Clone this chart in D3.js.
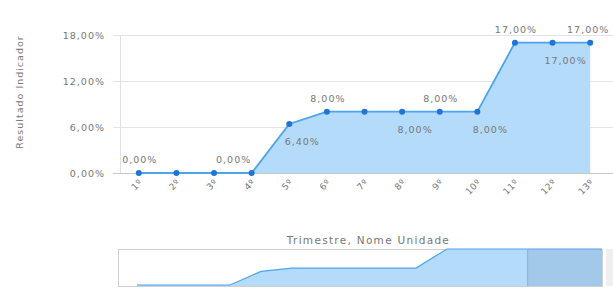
<!DOCTYPE html>
<html>
<head>
<meta charset="utf-8">
<script src="https://cdn.jsdelivr.net/npm/d3@7"></script>
<style>
  body { margin: 0; background: #fff; }
  text { font-family: "DejaVu Sans", Verdana, sans-serif; fill: #777; }
</style>
</head>
<body>
<div id="chart-area"></div>
<script>
// trimestres
const categories = ["1º", "2º", "3º", "4º", "5º", "6º", "7º", "8º", "9º", "10º", "11º", "12º", "13º"]
const values = [0, 0, 0, 0, 6.4, 8, 8, 8, 8, 8, 17, 17, 17]
// which data labels are shown, above (a) or below (b)
const labelPos = ["a", "", "", "a", "b", "a", "", "b", "a", "b", "a", "b", "a"]
const yTicks = [0, 6, 12, 18]
// navigator series (whole range)
const navValues = [0, 0, 0, 0, 6.4, 8, 8, 8, 8, 8, 17, 17, 17, 17, 17, 17]
const navSelection = [12.6, 15]

const W = 613, H = 291
const MARGIN = { LEFT: 120, RIGHT: 4, TOP: 35, BOTTOM: 118 }
const WIDTH = W - MARGIN.LEFT - MARGIN.RIGHT
const HEIGHT = H - MARGIN.TOP - MARGIN.BOTTOM

const fmt = v => v.toFixed(2).replace(".", ",") + "%"

const svg = d3.select("#chart-area").append("svg")
  .attr("width", W)
  .attr("height", H)

const g = svg.append("g")
  .attr("transform", `translate(${MARGIN.LEFT}, ${MARGIN.TOP})`)

const x = d3.scalePoint()
  .domain(categories)
  .range([0, WIDTH])
  .padding(0.5)

const y = d3.scaleLinear()
  .domain([0, 18])
  .range([HEIGHT, 0])

// grid
g.selectAll(".grid")
  .data(yTicks)
  .enter().append("line")
  .attr("x1", -7)
  .attr("x2", WIDTH + MARGIN.RIGHT)
  .attr("y1", d => y(d) + 0.5)
  .attr("y2", d => y(d) + 0.5)
  .attr("stroke", d => d === 0 ? "#c8c8c8" : "#e4e4e4")

g.append("line")
  .attr("x1", 0.5).attr("x2", 0.5)
  .attr("y1", 0).attr("y2", HEIGHT)
  .attr("stroke", "#e0e0e0")

// y axis labels
g.selectAll(".ytick")
  .data(yTicks)
  .enter().append("text")
  .attr("x", -15)
  .attr("y", d => y(d) + 3.5)
  .attr("text-anchor", "end")
  .style("font-size", "9.5px")
  .style("letter-spacing", "1px")
  .text(d => fmt(d))

// Y label
svg.append("text")
  .attr("transform", `translate(23, ${MARGIN.TOP + HEIGHT / 2 - 12}) rotate(-90)`)
  .attr("text-anchor", "middle")
  .style("font-size", "9.5px")
  .style("letter-spacing", "1px")
  .text("Resultado Indicador")

// area + line
const data = categories.map((c, i) => ({ c: c, v: values[i], pos: labelPos[i] }))

const area = d3.area()
  .x(d => x(d.c))
  .y0(HEIGHT)
  .y1(d => y(d.v))

g.append("path")
  .datum(data)
  .attr("d", area)
  .attr("fill", "#b5dbfa")

const line = d3.line()
  .x(d => x(d.c))
  .y(d => y(d.v))

g.append("path")
  .datum(data)
  .attr("d", line)
  .attr("fill", "none")
  .attr("stroke", "#4ca4ef")
  .attr("stroke-width", 1.8)

g.selectAll(".dot")
  .data(data)
  .enter().append("circle")
  .attr("cx", d => x(d.c))
  .attr("cy", d => y(d.v))
  .attr("r", 3)
  .attr("fill", "#1f74d6")

// data labels
g.selectAll(".lbl")
  .data(data.filter(d => d.pos !== ""))
  .enter().append("text")
  .attr("x", d => x(d.c) + (d.c === "4º" ? -18 : d.c === "13º" ? -2 : d.pos === "b" ? 13 : 1))
  .attr("y", d => d.pos === "a" ? y(d.v) - 10 : y(d.v) + 21)
  .attr("text-anchor", "middle")
  .style("font-size", "9.5px")
  .style("letter-spacing", "1px")
  .text(d => fmt(d.v))

// x labels rotated
g.selectAll(".xtick")
  .data(categories)
  .enter().append("text")
  .attr("transform", d => `translate(${x(d) + 4}, ${HEIGHT + 10}) rotate(-45)`)
  .attr("text-anchor", "end")
  .style("font-size", "9px")
  .style("letter-spacing", "0.5px")
  .text(d => d)

// X title
svg.append("text")
  .attr("x", MARGIN.LEFT + WIDTH / 2 + 4)
  .attr("y", 244)
  .attr("text-anchor", "middle")
  .style("font-size", "10.5px")
  .style("letter-spacing", "1.3px")
  .text("Trimestre, Nome Unidade")

// navigator
const NAV = { LEFT: 118, TOP: 249, WIDTH: 484, HEIGHT: 37 }
const nav = svg.append("g")
  .attr("transform", `translate(${NAV.LEFT}, ${NAV.TOP})`)

const nx = d3.scaleLinear()
  .domain([0, navValues.length - 1])
  .range([19, NAV.WIDTH])
const ny = d3.scaleLinear()
  .domain([0, 17])
  .range([NAV.HEIGHT - 1, 0])

nav.append("rect")
  .attr("x", 0.5).attr("y", 0.5)
  .attr("width", NAV.WIDTH).attr("height", NAV.HEIGHT)
  .attr("fill", "#fff")
  .attr("stroke", "#d0d0d0")

nav.append("path")
  .datum(navValues)
  .attr("d", d3.area()
    .x((d, i) => nx(i))
    .y0(NAV.HEIGHT)
    .y1(d => ny(d)))
  .attr("fill", "#b5dbfa")

nav.append("path")
  .datum(navValues)
  .attr("d", d3.line()
    .x((d, i) => nx(i))
    .y(d => ny(d)))
  .attr("fill", "none")
  .attr("stroke", "#4ca4ef")
  .attr("stroke-width", 1.2)

nav.append("rect")
  .attr("x", nx(navSelection[0]))
  .attr("y", 0)
  .attr("width", nx(navSelection[1]) - nx(navSelection[0]))
  .attr("height", NAV.HEIGHT)
  .attr("fill", "#7fa6cc")
  .attr("opacity", 0.35)

nav.append("line")
  .attr("x1", nx(navSelection[0])).attr("x2", nx(navSelection[0]))
  .attr("y1", 0).attr("y2", NAV.HEIGHT)
  .attr("stroke", "#8fb3d4")

// scroll strip on the right
svg.append("rect")
  .attr("x", NAV.LEFT + NAV.WIDTH + 4)
  .attr("y", NAV.TOP)
  .attr("width", 10)
  .attr("height", NAV.HEIGHT)
  .attr("fill", "#efefef")
</script>
</body>
</html>
